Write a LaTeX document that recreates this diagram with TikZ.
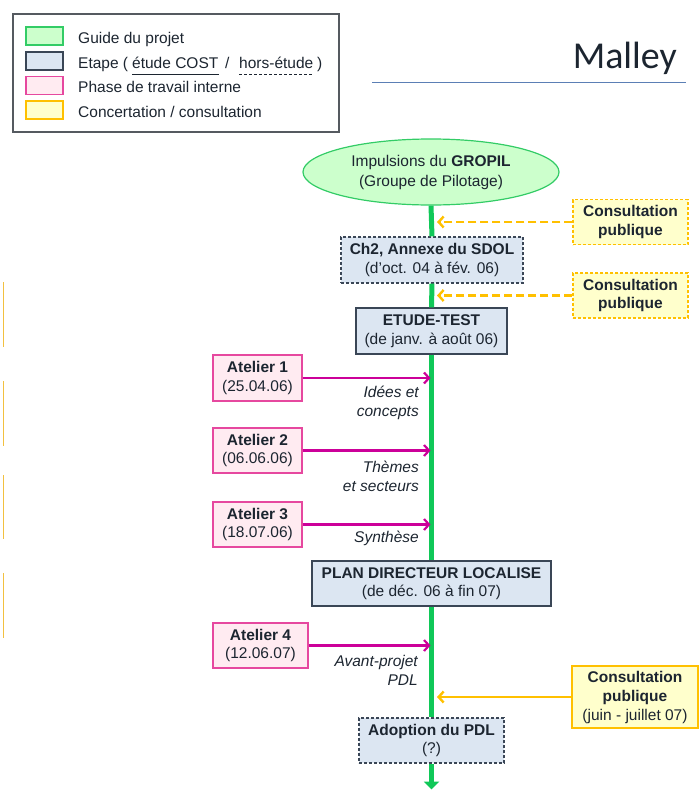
\documentclass[tikz,border=0pt]{standalone}
\usepackage{fontspec}
\setmainfont{Liberation Sans}
\newfontfamily\titlefont{Carlito}
\usetikzlibrary{shapes.geometric,arrows.meta}

\definecolor{ink}{HTML}{1C2530}
\definecolor{guidefill}{HTML}{CCFFCC}
\definecolor{guideline}{HTML}{33CC66}
\definecolor{trunkgreen}{HTML}{10C858}
\definecolor{stagefill}{HTML}{DCE6F2}
\definecolor{stageline}{HTML}{3A4656}
\definecolor{workfill}{HTML}{FFEBF1}
\definecolor{workline}{HTML}{E6489F}
\definecolor{workarrow}{HTML}{CC0099}
\definecolor{consfill}{HTML}{FFFFCC}
\definecolor{consline}{HTML}{FFC000}
\definecolor{rulecol}{HTML}{5B7FB5}
\definecolor{framecol}{HTML}{555A60}
\definecolor{edgecol}{HTML}{F2C040}

\begin{document}
\begin{tikzpicture}[x=1pt,y=-1pt,
  font=\fontsize{15.5}{18.5}\selectfont, text=ink,
  box/.style={line width=1.2pt, align=center, inner sep=0pt, minimum height=45pt},
  stage/.style={box, draw=stageline, fill=stagefill},
  stagedash/.style={stage, dash pattern=on 3pt off 2pt},
  work/.style={box, draw=workline, fill=workfill, minimum width=89pt},
  cons/.style={box, draw=consline, fill=consfill, minimum width=115pt},
  consdash/.style={cons, dash pattern=on 3pt off 2pt},
  swatch/.style={line width=1.3pt, minimum width=37pt, minimum height=18pt, inner sep=0pt},
  legtext/.style={anchor=base west, inner sep=0pt},
  note/.style={font=\fontsize{15.5}{19}\selectfont\itshape, align=right, inner sep=0pt, anchor=east},
  trunk/.style={draw=trunkgreen, line width=5pt},
  workarr/.style={draw=workarrow, line width=2.2pt, -{Straight Barb[length=5pt,width=11pt]}, shorten >=1pt},
  consarr/.style={draw=consline, line width=2.4pt, -{Straight Barb[length=5pt,width=11pt]}, shorten >=5pt},
  edgeline/.style={draw=edgecol, line width=1pt}
]
\useasboundingbox (0,0) rectangle (699,790);

% legend
\node[draw=framecol, line width=1.2pt, minimum width=326pt, minimum height=118pt, inner sep=0pt] (legend) at (176,73) {};
\node[swatch, draw=guideline, fill=guidefill] (swg) at (44.5,36) {};
\node[swatch, draw=stageline, fill=stagefill] (sws) at (44.5,61) {};
\node[swatch, draw=workline, fill=workfill] (sww) at (44.5,85.5) {};
\node[swatch, draw=consline, fill=consfill] (swc) at (44.5,110) {};
\node[legtext] (lg1) at (78,43.5) {Guide du projet};
\node[legtext] (lg2) at (78,68) {Etape (};
\node[legtext] (lg2a) at (132,68) {étude COST};
\node[legtext] (lg2b) at (225,68) {/};
\node[legtext] (lg2c) at (239,68) {hors-étude};
\node[legtext] (lg2d) at (317,68) {)};
\draw[ink, line width=1pt] ([yshift=-6pt]lg2a.base west) -- ([yshift=-6pt]lg2a.base east);
\draw[ink, line width=1pt, dash pattern=on 3pt off 2pt] ([yshift=-6pt]lg2c.base west) -- ([yshift=-6pt]lg2c.base east);
\node[legtext] (lg3) at (78,92.5) {Phase de travail interne};
\node[legtext] (lg4) at (78,117) {Concertation / consultation};

% title
\node[anchor=base east, inner sep=0pt, font=\titlefont\fontsize{38}{40}\selectfont, text=ink] (title) at (677,68) {Malley};
\draw[rulecol, line width=1pt] (372,82.5) -- (686,82.5);

% margin marks
\draw[edgeline] (3,282) -- (3,347);
\draw[edgeline] (3,381) -- (3,446);
\draw[edgeline] (3,475) -- (3,539);
\draw[edgeline] (3,573) -- (3,638);

% main line of stages
\node[ellipse, draw=guideline, fill=guidefill, line width=1.2pt, minimum width=256pt, minimum height=66pt, inner sep=0pt, align=center, font=\fontsize{15.5}{20}\selectfont] (gropil) at (431,172) {Impulsions du \textbf{GROPIL}\\(Groupe de Pilotage)};
\node[stagedash, minimum width=182pt, minimum height=46pt] (sdol) at (432,260) {\textbf{Ch2, Annexe du SDOL}\\(d’oct. 04 à fév. 06)};
\node[stage, minimum width=151pt, minimum height=46pt] (test) at (431.5,331) {\textbf{ETUDE-TEST}\\(de janv. à août 06)};
\node[stage, minimum width=239pt] (pdl) at (431.5,583.5) {\textbf{PLAN DIRECTEUR LOCALISE}\\(de déc. 06 à fin 07)};
\node[stagedash, minimum width=145pt] (adopt) at (431.5,740.5) {\textbf{Adoption du PDL}\\(?)};
\coordinate (endpt) at (431.5,789.5);

\draw[trunk] (gropil.south) -- (sdol.north);
\draw[trunk] (sdol.south) -- (test.north);
\draw[trunk] (test.south) -- (pdl.north);
\draw[trunk] (pdl.south) -- (adopt.north);
\draw[trunk, -{Triangle[length=8pt,width=15pt]}] (adopt.south) -- (endpt);

% public consultations
\node[consdash] (cons1) at (630.5,222) {\textbf{Consultation}\\\textbf{publique}};
\node[consdash] (cons2) at (630.5,295.5) {\textbf{Consultation}\\\textbf{publique}};
\node[cons, minimum width=126pt, minimum height=62pt, font=\fontsize{15.5}{19}\selectfont] (cons3) at (635,697) {\textbf{Consultation}\\\textbf{publique}\\(juin - juillet 07)};

\draw[consarr, dash pattern=on 8pt off 4pt] (cons1.west) -- (cons1.west -| sdol.center);
\draw[consarr, dash pattern=on 8pt off 4pt] (cons2.west) -- (cons2.west -| sdol.center);
\draw[consarr] (cons3.west) -- (cons3.west -| sdol.center);

% workshops
\node[work, minimum height=46pt] (at1) at (257.5,378) {\textbf{Atelier 1}\\(25.04.06)};
\node[work] (at2) at (257.5,450.5) {\textbf{Atelier 2}\\(06.06.06)};
\node[work] (at3) at (257.5,524.5) {\textbf{Atelier 3}\\(18.07.06)};
\node[work, minimum width=95pt] (at4) at (260.5,645.5) {\textbf{Atelier 4}\\(12.06.07)};

\draw[workarr] (at1.east) -- (at1.east -| test.center);
\draw[workarr] (at2.east) -- (at2.east -| test.center);
\draw[workarr] (at3.east) -- (at3.east -| test.center);
\draw[workarr] (at4.east) -- (at4.east -| test.center);

\node[note] (out1) at (419,402.5) {Idées et\\concepts};
\node[note] (out2) at (419,476.5) {Thèmes\\et secteurs};
\node[note] (out3) at (419,538) {Synthèse};
\node[note] (out4) at (418,670.5) {Avant-projet\\PDL};
\end{tikzpicture}
\end{document}
